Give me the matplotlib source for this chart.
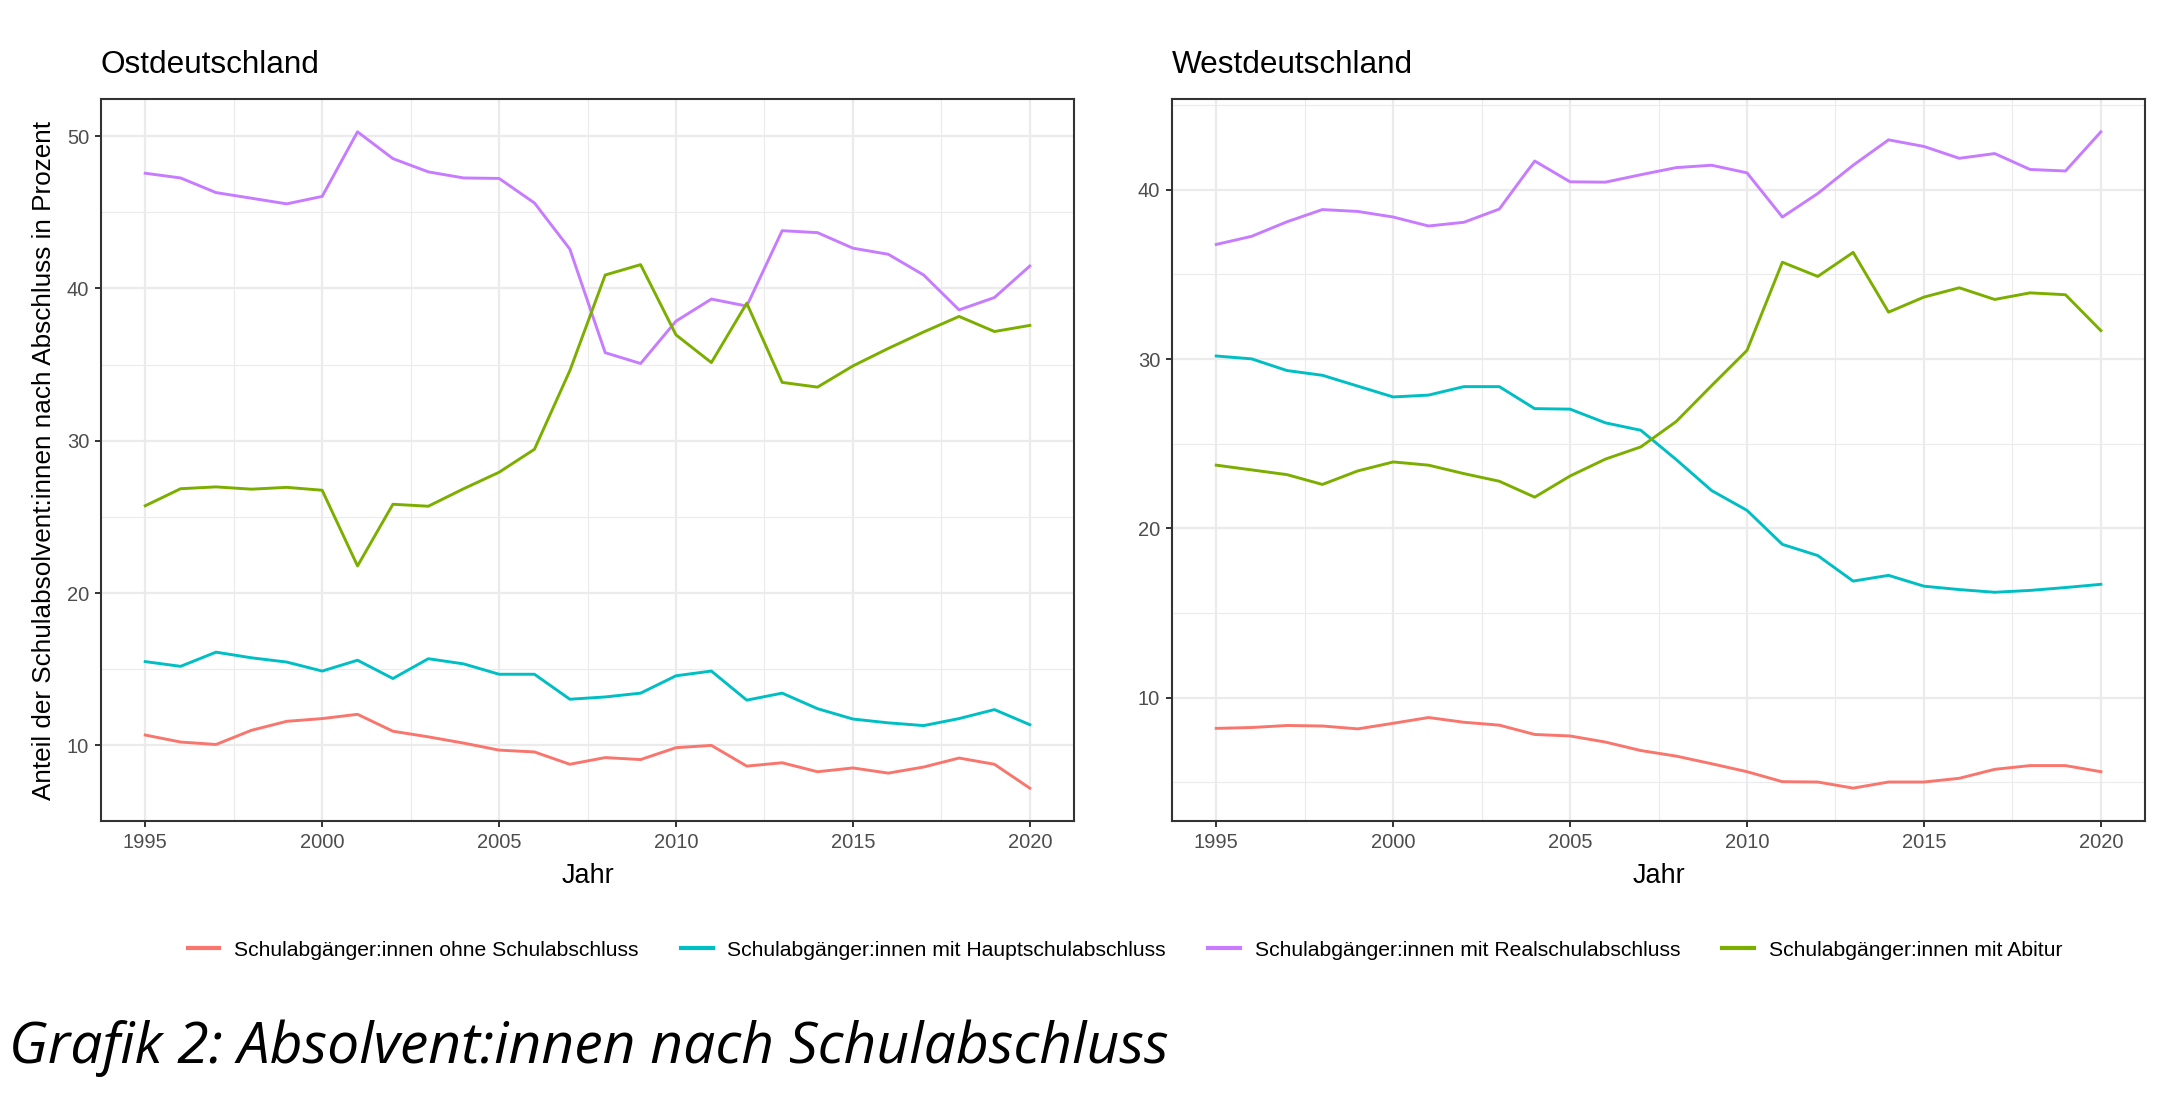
import matplotlib
matplotlib.use('Agg')
import matplotlib.pyplot as plt
from matplotlib.ticker import MultipleLocator

plt.rcParams['font.family'] = ['Liberation Sans', 'DejaVu Sans']

years = list(range(1995, 2021))

# Ostdeutschland
ost_ohne = [10.68, 10.22, 10.06, 10.99, 11.58, 11.76, 12.04, 10.93, 10.56, 10.15, 9.69, 9.57, 8.76,
            9.20, 9.07, 9.85, 10.00, 8.64, 8.86, 8.27, 8.52, 8.18, 8.58, 9.17, 8.76, 7.19]
ost_haupt = [15.50, 15.19, 16.12, 15.75, 15.47, 14.88, 15.59, 14.39, 15.69, 15.35, 14.67, 14.67, 13.03,
             13.18, 13.43, 14.57, 14.88, 12.97, 13.43, 12.41, 11.73, 11.48, 11.30, 11.76, 12.35, 11.36]
ost_real = [47.56, 47.25, 46.29, 45.92, 45.55, 46.04, 50.28, 48.52, 47.65, 47.25, 47.22, 45.61, 42.58,
            35.78, 35.07, 37.85, 39.30, 38.84, 43.79, 43.66, 42.64, 42.24, 40.88, 38.59, 39.40, 41.47]
ost_abitur = [25.73, 26.85, 26.97, 26.82, 26.94, 26.75, 21.78, 25.83, 25.70, 26.85, 27.93, 29.44, 34.60,
              40.88, 41.56, 36.95, 35.13, 39.03, 33.83, 33.52, 34.91, 36.06, 37.14, 38.16, 37.17, 37.57]

# Westdeutschland
west_ohne = [8.18, 8.23, 8.35, 8.32, 8.15, 8.48, 8.82, 8.54, 8.37, 7.82, 7.73, 7.37, 6.87,
             6.54, 6.09, 5.62, 5.03, 5.01, 4.65, 5.01, 5.01, 5.23, 5.76, 5.98, 5.98, 5.62]
west_haupt = [30.18, 30.01, 29.32, 29.04, 28.40, 27.76, 27.87, 28.37, 28.37, 27.07, 27.04, 26.23, 25.79,
              24.06, 22.23, 21.06, 19.05, 18.39, 16.88, 17.22, 16.58, 16.38, 16.22, 16.33, 16.50, 16.69]
west_real = [36.77, 37.25, 38.11, 38.83, 38.72, 38.39, 37.86, 38.08, 38.86, 41.70, 40.47, 40.45, 40.89,
             41.31, 41.45, 41.00, 38.39, 39.78, 41.45, 42.95, 42.56, 41.86, 42.14, 41.20, 41.11, 43.42]
west_abitur = [23.73, 23.45, 23.17, 22.59, 23.39, 23.92, 23.73, 23.23, 22.78, 21.84, 23.09, 24.09, 24.81,
               26.31, 28.43, 30.51, 35.72, 34.88, 36.30, 32.77, 33.66, 34.21, 33.52, 33.91, 33.80, 31.68]

labels = ['Schulabgänger:innen ohne Schulabschluss',
          'Schulabgänger:innen mit Hauptschulabschluss',
          'Schulabgänger:innen mit Realschulabschluss',
          'Schulabgänger:innen mit Abitur']
colors = ['#F8766D', '#00BFC4', '#C77CFF', '#7CAE00']

fig = plt.figure(figsize=(21.72, 11.18), dpi=100)
ax1 = fig.add_axes([0.0465, 0.2657, 0.448, 0.6457])
ax2 = fig.add_axes([0.5396, 0.2657, 0.448, 0.6457])


def style_axes(ax, title, ylim):
    ax.set_xlim(1993.75, 2021.25)
    ax.set_ylim(*ylim)
    ax.xaxis.set_major_locator(MultipleLocator(5))
    ax.xaxis.set_minor_locator(MultipleLocator(2.5))
    ax.yaxis.set_major_locator(MultipleLocator(10))
    ax.yaxis.set_minor_locator(MultipleLocator(5))
    ax.grid(which='major', color='#EBEBEB', lw=1.6)
    ax.grid(which='minor', color='#EBEBEB', lw=0.8)
    ax.set_axisbelow(True)
    for s in ax.spines.values():
        s.set_color('#333333')
        s.set_linewidth(1.5)
    ax.tick_params(which='major', length=4.5, width=1.4, color='#333333',
                   labelsize=14.5, labelcolor='#4D4D4D', pad=4)
    ax.tick_params(which='minor', length=0)
    ax.set_title(title, loc='left', fontsize=22.7, pad=19)
    ax.set_xlabel('Jahr', fontsize=19.5, labelpad=8)


series_ost = [ost_ohne, ost_haupt, ost_real, ost_abitur]
series_west = [west_ohne, west_haupt, west_real, west_abitur]
for vals, c, lab in zip(series_ost, colors, labels):
    ax1.plot(years, vals, color=c, lw=2.1, label=lab)
for vals, c in zip(series_west, colors):
    ax2.plot(years, vals, color=c, lw=2.1)

style_axes(ax1, 'Ostdeutschland', (5.04, 52.43))
style_axes(ax2, 'Westdeutschland', (2.71, 45.36))
ax1.set_ylabel('Anteil der Schulabsolvent:innen nach Abschluss in Prozent', fontsize=18.8, labelpad=8)

leg = fig.legend(*ax1.get_legend_handles_labels(), loc='center', bbox_to_anchor=(0.518, 0.150),
                 ncol=4, frameon=False, fontsize=15.2, handlelength=1.5, handletextpad=0.7,
                 columnspacing=2.0)
for line in leg.get_lines():
    line.set_linewidth(3)

fig.text(0.004, 0.062, 'Grafik 2: Absolvent:innen nach Schulabschluss', fontsize=41,
         style='italic', family=['Open Sans', 'DejaVu Sans'], va='center', ha='left')

fig.savefig('out.png', dpi=100, facecolor='white')
